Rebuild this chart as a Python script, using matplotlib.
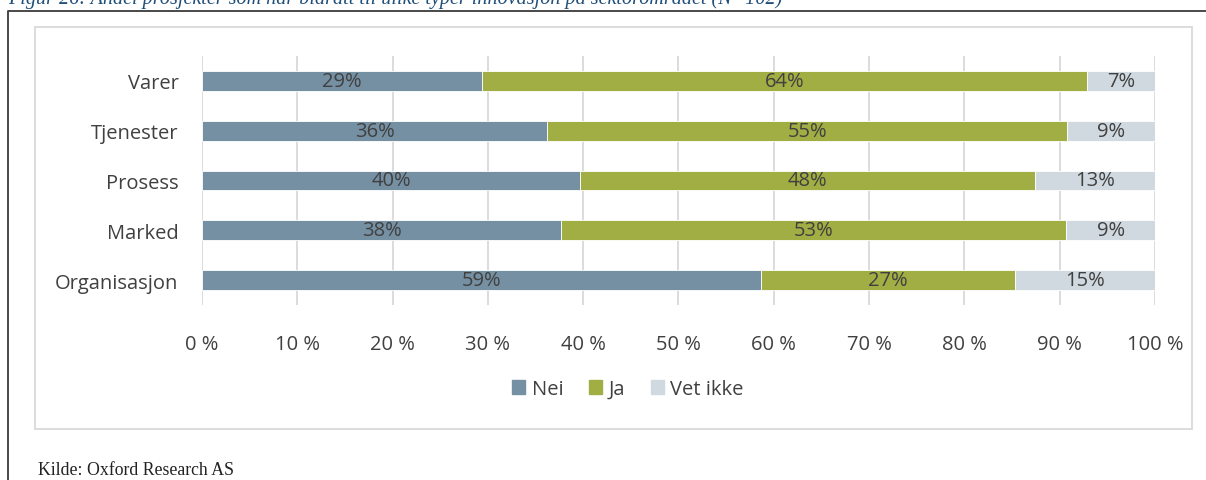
import matplotlib.pyplot as plt
from matplotlib.patches import Rectangle, Patch
from matplotlib.lines import Line2D

categories = ["Varer", "Tjenester", "Prosess", "Marked", "Organisasjon"]
nei = [29.4, 36.2, 39.7, 37.7, 58.7]
ja = [63.5, 54.6, 47.7, 53.0, 26.6]
vet_ikke = [7.1, 9.2, 12.6, 9.3, 14.7]
nei_labels = ["29%", "36%", "40%", "38%", "59%"]
ja_labels = ["64%", "55%", "48%", "53%", "27%"]
vet_labels = ["7%", "9%", "13%", "9%", "15%"]
xticks = [0, 10, 20, 30, 40, 50, 60, 70, 80, 90, 100]
xtick_labels = [f"{t} %" for t in xticks]

plt.rcParams['font.family'] = ['Open Sans', 'DejaVu Sans']
txt = '#404040'
fs = 14.5

W, H = 1206, 481
fig = plt.figure(figsize=(W / 100, H / 100), dpi=100)

# frames (figure pixel coords -> fraction)
def fx(x): return x / W
def fy(y): return 1 - y / H

fig.add_artist(Line2D([fx(8), fx(8), fx(1206)], [fy(481), fy(12), fy(12)],
                      color='#3a3a3a', lw=1.3, transform=fig.transFigure))
fig.add_artist(Rectangle((fx(35), fy(430)), fx(1192) - fx(35), fy(28) - fy(430),
                         fill=False, ec='#d9d9d9', lw=1.3, transform=fig.transFigure))

# caption at top, cut by the page edge as in the source
fig.text(fx(8), fy(4), "Figur 26: Andel prosjekter som har bidratt til ulike typer innovasjon på sektorområdet (N=102)",
         family='Liberation Serif', style='italic', color='#1f4e79', fontsize=14.5, va='baseline')
fig.text(fx(38), fy(471), "Kilde: Oxford Research AS", family='Liberation Serif',
         color='#222222', fontsize=12.8, va='center')

ax = fig.add_axes([fx(202), fy(306), fx(1155) - fx(202), fy(57) - fy(306)])
y = list(range(len(categories)))
colors = ['#7590a3', '#a0ae43', '#d0d9e0']
left2 = [a + b for a, b in zip(nei, ja)]
b1 = ax.barh(y, nei, height=0.4, color=colors[0], edgecolor='white', lw=0.6, zorder=2)
b2 = ax.barh(y, ja, left=nei, height=0.4, color=colors[1], edgecolor='white', lw=0.6, zorder=2)
b3 = ax.barh(y, vet_ikke, left=left2, height=0.4, color=colors[2], edgecolor='white', lw=0.6, zorder=2)
for bars, labs in [(b1, nei_labels), (b2, ja_labels), (b3, vet_labels)]:
    ax.bar_label(bars, labels=labs, label_type='center', color=txt, fontsize=fs)

ax.set_xlim(0, 100)
ax.set_ylim(4.5, -0.5)
ax.set_xticks(xticks)
ax.set_xticklabels(xtick_labels, color=txt, fontsize=fs)
ax.set_yticks(y)
ax.set_yticklabels(categories, color=txt, fontsize=fs)
ax.tick_params(length=0)
ax.tick_params(axis='x', pad=21)
ax.tick_params(axis='y', pad=17)
ax.grid(axis='x', color='#d9d9d9', lw=1.3, zorder=0)
for s in ax.spines.values():
    s.set_visible(False)

handles = [Patch(color=c) for c in colors]
fig.legend(handles, ["Nei", "Ja", "Vet ikke"], loc='center', bbox_to_anchor=(fx(628), fy(390)),
           ncol=3, frameon=False, fontsize=fs, handlelength=0.65, handleheight=0.65,
           handletextpad=0.3, columnspacing=1.3, labelcolor=txt)

fig.savefig("out.png", dpi=100)
